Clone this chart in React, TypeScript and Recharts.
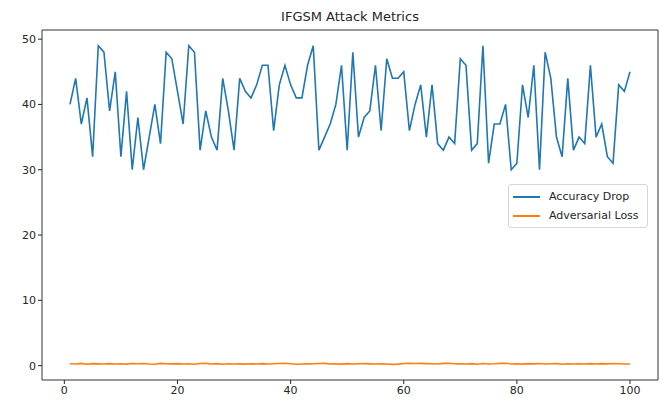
import { LineChart, Line, XAxis, YAxis, ReferenceArea } from 'recharts'

const epochs = Array.from({ length: 100 }, (_, i) => i + 1)

const accuracyDrop = [
  40, 44, 37, 41, 32, 49, 48, 39, 45, 32, 42, 30, 38, 30, 35, 40, 34, 48, 47, 42,
  37, 49, 48, 33, 39, 35, 33, 44, 39, 33, 44, 42, 41, 43, 46, 46, 36, 43, 46, 43,
  41, 41, 46, 49, 33, 35, 37, 40, 46, 33, 48, 35, 38, 39, 46, 36, 47, 44, 44, 45,
  36, 40, 43, 35, 43, 34, 33, 35, 34, 47, 46, 33, 34, 49, 31, 37, 37, 40, 30, 31,
  43, 38, 46, 30, 48, 44, 35, 32, 44, 33, 35, 34, 46, 35, 37, 32, 31, 43, 42, 45,
]

const adversarialLoss = [
  0.28, 0.25, 0.34, 0.22, 0.31, 0.27, 0.24, 0.3, 0.26, 0.29, 0.23, 0.32, 0.28, 0.33, 0.25, 0.22, 0.34, 0.3, 0.27, 0.31,
  0.24, 0.29, 0.21, 0.33, 0.35, 0.26, 0.3, 0.22, 0.28, 0.25, 0.27, 0.23, 0.29, 0.26, 0.31, 0.24, 0.28, 0.33, 0.36, 0.3,
  0.22, 0.25, 0.27, 0.29, 0.32, 0.34, 0.26, 0.28, 0.23, 0.3, 0.25, 0.28, 0.31, 0.27, 0.24, 0.29, 0.26, 0.2, 0.23, 0.33,
  0.36, 0.32, 0.35, 0.31, 0.28, 0.26, 0.34, 0.37, 0.3, 0.27, 0.24, 0.3, 0.22, 0.32, 0.25, 0.28, 0.34, 0.36, 0.26, 0.29,
  0.23, 0.31, 0.27, 0.33, 0.24, 0.28, 0.3, 0.22, 0.27, 0.25, 0.29, 0.26, 0.31, 0.24, 0.3, 0.27, 0.33, 0.29, 0.26, 0.24,
]

const xTicks = [0, 20, 40, 60, 80, 100]
const yTicks = [0, 10, 20, 30, 40, 50]

const seriesNames = ['Accuracy Drop', 'Adversarial Loss']
const seriesColors = ['#1f77b4', '#ff7f0e']

const data = epochs.map((epoch, i) => ({
  epoch,
  accuracyDrop: accuracyDrop[i],
  adversarialLoss: adversarialLoss[i],
}))

const FONT = '"DejaVu Sans", sans-serif'
const INK = '#262626'

export default function App() {
  return (
    <div style={{ position: 'absolute', left: 0, top: 0, width: 666, height: 407, background: '#fff' }}>
      <div
        style={{
          position: 'absolute',
          left: 42,
          width: 616,
          top: 9,
          textAlign: 'center',
          fontFamily: FONT,
          fontSize: 13,
          color: INK,
        }}
      >
        IFGSM Attack Metrics
      </div>
      <LineChart width={666} height={407} data={data} margin={{ top: 30, right: 8, bottom: 0, left: 0 }}>
        <XAxis
          dataKey="epoch"
          type="number"
          domain={[-3.95, 104.95]}
          ticks={xTicks}
          allowDataOverflow
          height={27}
          tickSize={4}
          axisLine={false}
          tickLine={{ stroke: INK }}
          tick={{ fill: INK, fontSize: 11, fontFamily: FONT }}
        />
        <YAxis
          type="number"
          domain={[-2.2, 51.4]}
          ticks={yTicks}
          allowDataOverflow
          width={42}
          tickSize={4}
          axisLine={false}
          tickLine={{ stroke: INK }}
          tick={{ fill: INK, fontSize: 11, fontFamily: FONT }}
        />
        <ReferenceArea
          x1={-3.95}
          x2={104.95}
          y1={-2.2}
          y2={51.4}
          fill="none"
          stroke="#333"
          strokeWidth={1}
          ifOverflow="visible"
        />
        <Line
          dataKey="accuracyDrop"
          name={seriesNames[0]}
          stroke={seriesColors[0]}
          strokeWidth={1.6}
          dot={false}
          isAnimationActive={false}
        />
        <Line
          dataKey="adversarialLoss"
          name={seriesNames[1]}
          stroke={seriesColors[1]}
          strokeWidth={1.6}
          dot={false}
          isAnimationActive={false}
        />
      </LineChart>
      {/* legend drawn on top of the plot, like matplotlib's "best" spot */}
      <div
        style={{
          position: 'absolute',
          left: 508,
          top: 184,
          border: '1px solid #d6d6d6',
          borderRadius: 3,
          background: 'rgba(255,255,255,0.8)',
          padding: '2px 8px 2px 4px',
          fontFamily: FONT,
          fontSize: 11,
          color: INK,
        }}
      >
        {seriesNames.map((name, i) => (
          <div key={name} style={{ display: 'flex', alignItems: 'center', height: 19 }}>
            <span
              style={{ display: 'inline-block', width: 27, height: 2, background: seriesColors[i], marginRight: 9 }}
            />
            {name}
          </div>
        ))}
      </div>
    </div>
  )
}
